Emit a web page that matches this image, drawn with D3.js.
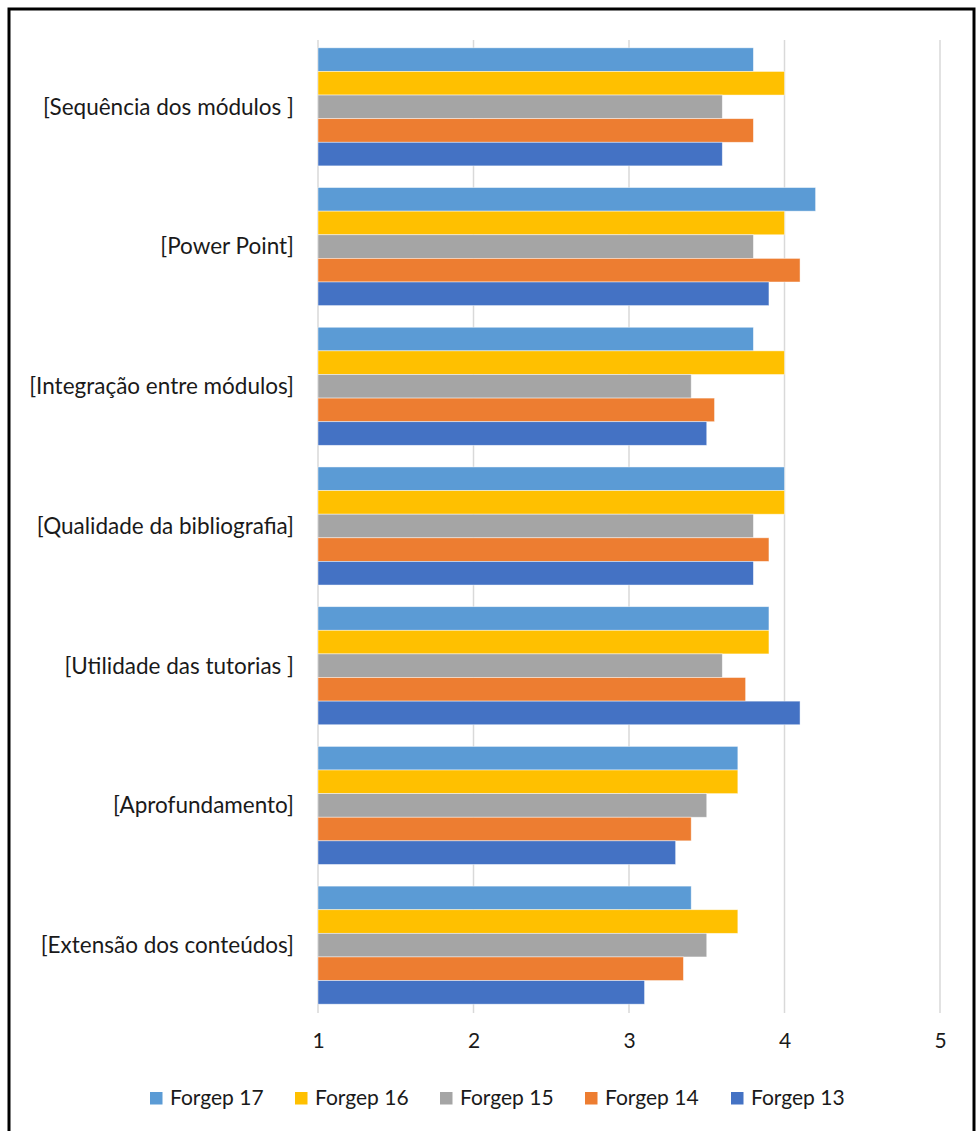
<!DOCTYPE html>
<html>
<head>
<meta charset="utf-8">
<script src="https://cdn.jsdelivr.net/npm/d3@7"></script>
<style>
  html, body { margin: 0; padding: 0; background: #fff; }
  svg { display: block; }
  text { font-family: Lato, "Open Sans", sans-serif; fill: #1a1a1a; }
</style>
</head>
<body>
<svg id="chart" width="977" height="1131"></svg>
<script>
// Categories, top to bottom
const categories = [
  "[Sequência dos módulos ]",
  "[Power Point]",
  "[Integração entre módulos]",
  "[Qualidade da bibliografia]",
  "[Utilidade das tutorias ]",
  "[Aprofundamento]",
  "[Extensão dos conteúdos]"
];
const seriesNames = ["Forgep 17", "Forgep 16", "Forgep 15", "Forgep 14", "Forgep 13"];
const seriesColors = ["#5B9BD5", "#FFC000", "#A5A5A5", "#ED7D31", "#4472C4"];

const forgep17 = [3.8, 4.2, 3.8, 4.0, 3.9, 3.7, 3.4];
const forgep16 = [4.0, 4.0, 4.0, 4.0, 3.9, 3.7, 3.7];
const forgep15 = [3.6, 3.8, 3.4, 3.8, 3.6, 3.5, 3.5];
const forgep14 = [3.8, 4.1, 3.55, 3.9, 3.75, 3.4, 3.35];
const forgep13 = [3.6, 3.9, 3.5, 3.8, 4.1, 3.3, 3.1];
const xTicks = [1, 2, 3, 4, 5];

const seriesValues = [forgep17, forgep16, forgep15, forgep14, forgep13];

const svg = d3.select("#chart");

// outer frame
svg.append("rect")
  .attr("x", 9).attr("y", 9)
  .attr("width", 965).attr("height", 1140)
  .attr("fill", "none").attr("stroke", "#000").attr("stroke-width", 3);

const x = d3.scaleLinear().domain([1, 5]).range([318, 940]);
const y = d3.scaleBand().domain(categories).range([37, 1015])
  .paddingInner(0.155).paddingOuter(0.0775);
const ySub = d3.scaleBand().domain(seriesNames).range([0, y.bandwidth()]);

// gridlines
svg.append("g").selectAll("line").data(xTicks).join("line")
  .attr("x1", d => x(d)).attr("x2", d => x(d))
  .attr("y1", 40).attr("y2", 1013)
  .attr("stroke", "#d9d9d9").attr("stroke-width", 1.5);

// bars
const groups = svg.append("g").selectAll("g").data(categories).join("g")
  .attr("transform", c => `translate(0,${y(c)})`);
groups.selectAll("rect")
  .data((c, ci) => seriesNames.map((s, si) => ({ s, si, v: seriesValues[si][ci] })))
  .join("rect")
  .attr("x", x(1))
  .attr("y", d => ySub(d.s))
  .attr("width", d => x(d.v) - x(1))
  .attr("height", ySub.bandwidth())
  .attr("fill", d => seriesColors[d.si])
  .attr("stroke", "#ffffff").attr("stroke-opacity", 0.6).attr("stroke-width", 0.75);

// category labels
svg.append("g").selectAll("text").data(categories).join("text")
  .attr("x", 294)
  .attr("y", c => y(c) + y.bandwidth() / 2)
  .attr("dy", "0.35em")
  .attr("text-anchor", "end")
  .attr("font-size", 22.5)
  .text(c => c);

// x axis tick labels
const xAxis = d3.axisBottom(x).tickValues(xTicks).tickSize(0).tickPadding(0).tickFormat(d3.format("d"));
const axG = svg.append("g").attr("transform", "translate(0,1033)").call(xAxis);
axG.select(".domain").remove();
axG.selectAll("text").attr("font-size", 21).attr("font-family", "Lato, 'Open Sans', sans-serif").attr("fill", "#1a1a1a");

// legend
const legendX = [150, 295, 440, 585, 731];
const lg = svg.append("g").selectAll("g").data(seriesNames).join("g")
  .attr("transform", (d, i) => `translate(${legendX[i]},1098)`);
lg.append("rect").attr("x", 0).attr("y", -6).attr("width", 12.5).attr("height", 12.5)
  .attr("fill", (d, i) => seriesColors[i]);
lg.append("text").attr("x", 20).attr("y", 0).attr("dy", "0.35em")
  .attr("font-size", 21).text(d => d);
</script>
</body>
</html>
